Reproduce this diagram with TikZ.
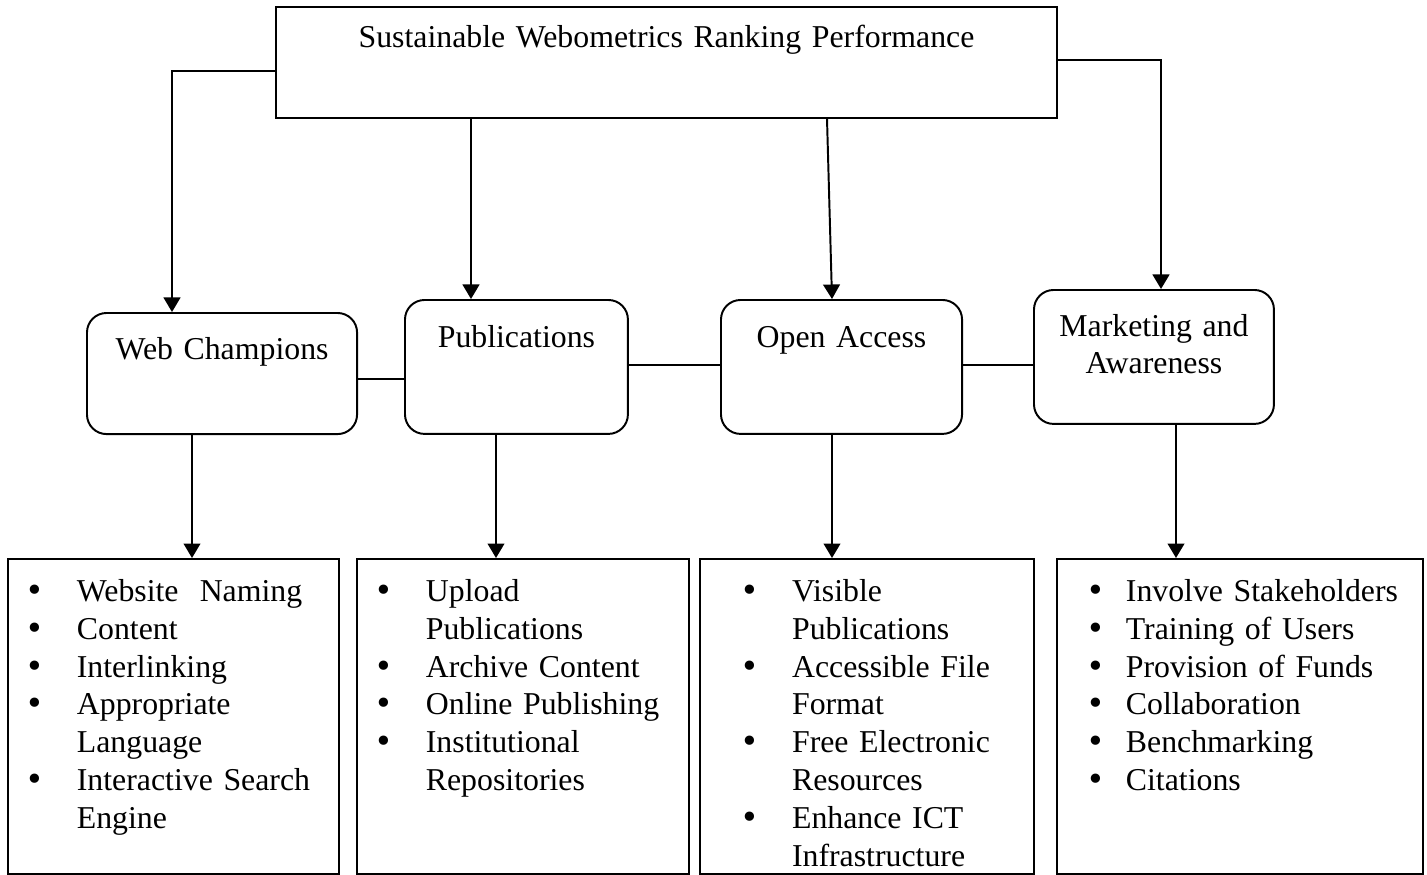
\documentclass[tikz,border=0pt]{standalone}
\usepackage{fontspec}
\setmainfont{Liberation Serif}
\newfontfamily\bulfont{DejaVu Sans}
\usetikzlibrary{arrows.meta}
\newcommand\bulx{9.7pt}
\newcommand\txtx{24.7pt}
\newcommand\bitem[1]{\makebox[\txtx][l]{\hspace*{\bulx}\makebox[0pt]{\bulfont\textbullet}}#1}
\newcommand\bcont[1]{\hspace*{\txtx}#1}

\begin{document}
\begin{tikzpicture}[x=0.3584pt,y=-0.3584pt,
		font=\fontsize{11.4pt}{13.6pt}\selectfont,
		box/.style={draw,line width=.7pt,inner sep=0pt,anchor=north west,align=center},
		rbox/.style={box,rounded corners=7pt},
		lbox/.style 2 args={box,align=left,text height=15.1pt,text depth=97.8pt,
			execute at begin node={\renewcommand\bulx{#1}\renewcommand\txtx{#2}}},
		link/.style={line width=.7pt},
		arr/.style={link,-{Triangle[length=5.2pt,width=6pt]}}]
				\useasboundingbox (0,0) rectangle (1427,874);
				\node[box,text width=279.9pt,text height=14.7pt,text depth=25.1pt] (perf) at (275,6)
					{Sustainable Webometrics Ranking Performance};
				\node[rbox,text width=96.8pt,text height=16.5pt,text depth=26.9pt] (champ) at (86,312)
					{Web Champions};
				\node[rbox,text width=79.9pt,text height=17.2pt,text depth=30.8pt] (pub) at (404,299)
					{Publications};
				\node[rbox,text width=86.4pt,text height=17.2pt,text depth=30.8pt] (oa) at (720,299)
					{Open Access};
				\node[rbox,text width=86pt,text height=16.5pt,text depth=31.5pt] (mkt) at (1033,289)
					{Marketing and\\Awareness};
				\node[lbox={9.7pt}{24.7pt},text width=118.6pt] (lchamp) at (7,558)
					{\bitem{Website\ \ Naming}\\\bitem{Content}\\\bitem{Interlinking}\\
					\bitem{Appropriate}\\\bcont{Language}\\\bitem{Interactive Search}\\\bcont{Engine}};
				\node[lbox={9.7pt}{24.7pt},text width=119pt] (lpub) at (356,558)
					{\bitem{Upload}\\\bcont{Publications}\\\bitem{Archive Content}\\
					\bitem{Online Publishing}\\\bitem{Institutional}\\\bcont{Repositories}};
				\node[lbox={17.9pt}{33pt},text width=119.7pt] (loa) at (699,558)
					{\bitem{Visible}\\\bcont{Publications}\\\bitem{Accessible File}\\\bcont{Format}\\
					\bitem{Free Electronic}\\\bcont{Resources}\\\bitem{Enhance ICT}\\\bcont{Infrastructure}};
				\node[lbox={14pt}{24.7pt},text width=131.2pt] (lmkt) at (1056,558)
					{\bitem{Involve Stakeholders}\\\bitem{Training of Users}\\\bitem{Provision of Funds}\\
					\bitem{Collaboration}\\\bitem{Benchmarking}\\\bitem{Citations}};
				\draw[arr] (perf.west |- 0,71) -| (champ.north -| 172,0);
				\draw[arr] (perf.south -| 471,0) -- (pub.north -| 471,0);
				\draw[arr] (perf.south -| 827,0) -- (oa.north -| 832,0);
				\draw[arr] (perf.east |- 0,60) -| (mkt.north -| 1161,0);
				\draw[link] (champ.east |- 0,379) -- (pub.west |- 0,379);
				\draw[link] (pub.east |- 0,365) -- (oa.west |- 0,365);
				\draw[link] (oa.east |- 0,365) -- (mkt.west |- 0,365);
				\draw[arr] (champ.south -| 192,0) -- (lchamp.north -| 192,0);
				\draw[arr] (pub.south -| 496,0) -- (lpub.north -| 496,0);
				\draw[arr] (oa.south -| 832,0) -- (loa.north -| 832,0);
				\draw[arr] (mkt.south -| 1176,0) -- (lmkt.north -| 1176,0);
			\end{tikzpicture}
\end{document}
